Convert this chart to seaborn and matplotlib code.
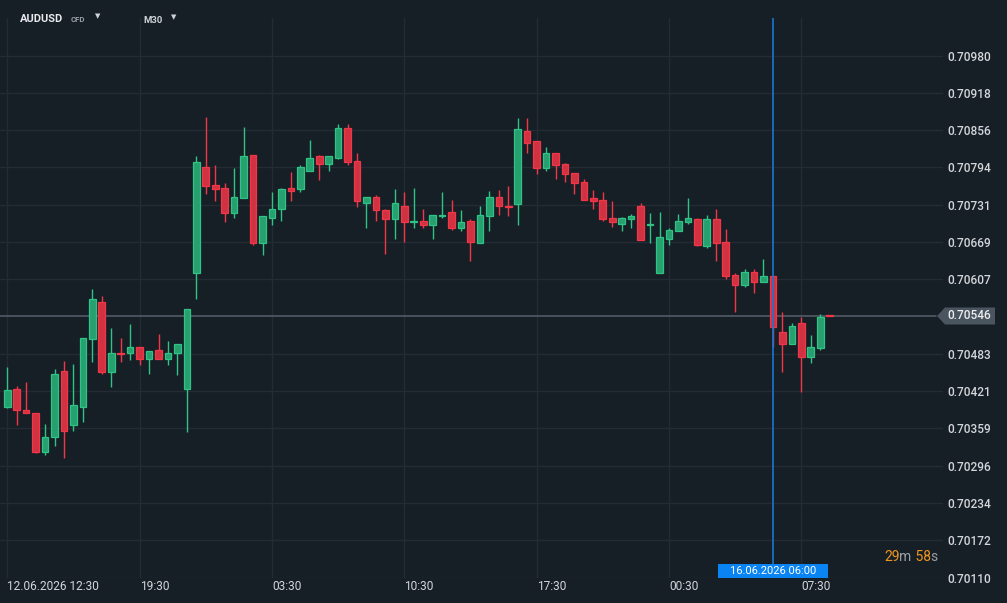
import numpy as np
import pandas as pd
import seaborn as sns
import matplotlib.pyplot as plt
from matplotlib.patches import Polygon, Rectangle
from matplotlib.transforms import IdentityTransform, blended_transform_factory

# AUDUSD CFD, M30 candles
opens = [0.70395, 0.70425, 0.70390, 0.70385, 0.70319, 0.70345, 0.70455, 0.70364, 0.70394, 0.70507,
         0.70569, 0.70452, 0.70485, 0.70484, 0.70495, 0.70475, 0.70489, 0.70475, 0.70485, 0.70425,
         0.70617, 0.70795, 0.70765, 0.70760, 0.70717, 0.70743, 0.70814, 0.70668, 0.70710, 0.70725,
         0.70759, 0.70757, 0.70788, 0.70812, 0.70800, 0.70810, 0.70860, 0.70804, 0.70735, 0.70744,
         0.70722, 0.70708, 0.70730, 0.70702, 0.70704, 0.70698, 0.70712, 0.70719, 0.70693, 0.70704,
         0.70668, 0.70712, 0.70745, 0.70730, 0.70733, 0.70854, 0.70837, 0.70793, 0.70817, 0.70799,
         0.70785, 0.70769, 0.70742, 0.70740, 0.70709, 0.70700, 0.70707, 0.70729, 0.70697, 0.70617,
         0.70675, 0.70688, 0.70703, 0.70707, 0.70663, 0.70707, 0.70670, 0.70615, 0.70597, 0.70620,
         0.70603, 0.70612, 0.70519, 0.70500, 0.70534, 0.70477, 0.70493, 0.70548]
highs = [0.70461, 0.70429, 0.70436, 0.70385, 0.70366, 0.70458, 0.70471, 0.70466, 0.70509, 0.70591,
         0.70579, 0.70526, 0.70509, 0.70533, 0.70495, 0.70487, 0.70516, 0.70504, 0.70500, 0.70558,
         0.70813, 0.70878, 0.70798, 0.70768, 0.70792, 0.70861, 0.70814, 0.70712, 0.70753, 0.70759,
         0.70786, 0.70797, 0.70839, 0.70814, 0.70812, 0.70866, 0.70866, 0.70818, 0.70745, 0.70747,
         0.70725, 0.70758, 0.70753, 0.70759, 0.70724, 0.70715, 0.70753, 0.70739, 0.70723, 0.70707,
         0.70729, 0.70754, 0.70756, 0.70763, 0.70876, 0.70876, 0.70837, 0.70828, 0.70817, 0.70801,
         0.70785, 0.70774, 0.70756, 0.70753, 0.70738, 0.70711, 0.70716, 0.70734, 0.70718, 0.70719,
         0.70692, 0.70716, 0.70743, 0.70709, 0.70714, 0.70724, 0.70691, 0.70617, 0.70624, 0.70624,
         0.70641, 0.70612, 0.70553, 0.70534, 0.70544, 0.70514, 0.70550, 0.70548]
lows = [0.70392, 0.70365, 0.70384, 0.70317, 0.70315, 0.70330, 0.70310, 0.70355, 0.70370, 0.70470,
        0.70449, 0.70427, 0.70470, 0.70472, 0.70465, 0.70450, 0.70474, 0.70465, 0.70448, 0.70353,
        0.70575, 0.70750, 0.70737, 0.70703, 0.70710, 0.70743, 0.70665, 0.70647, 0.70698, 0.70704,
        0.70737, 0.70753, 0.70788, 0.70773, 0.70788, 0.70807, 0.70797, 0.70728, 0.70693, 0.70704,
        0.70650, 0.70674, 0.70670, 0.70692, 0.70693, 0.70674, 0.70710, 0.70690, 0.70687, 0.70637,
        0.70667, 0.70688, 0.70715, 0.70712, 0.70698, 0.70817, 0.70783, 0.70788, 0.70775, 0.70770,
        0.70750, 0.70740, 0.70724, 0.70705, 0.70695, 0.70688, 0.70692, 0.70672, 0.70668, 0.70617,
        0.70665, 0.70688, 0.70700, 0.70663, 0.70660, 0.70638, 0.70608, 0.70552, 0.70595, 0.70585,
        0.70603, 0.70495, 0.70452, 0.70500, 0.70420, 0.70467, 0.70490, 0.70546]
closes = [0.70422, 0.70390, 0.70384, 0.70319, 0.70344, 0.70450, 0.70355, 0.70397, 0.70509, 0.70574,
          0.70452, 0.70485, 0.70482, 0.70495, 0.70474, 0.70487, 0.70474, 0.70485, 0.70500, 0.70558,
          0.70802, 0.70762, 0.70758, 0.70717, 0.70744, 0.70812, 0.70668, 0.70712, 0.70725, 0.70757,
          0.70755, 0.70794, 0.70810, 0.70800, 0.70812, 0.70860, 0.70802, 0.70738, 0.70744, 0.70722,
          0.70707, 0.70734, 0.70702, 0.70705, 0.70698, 0.70714, 0.70715, 0.70693, 0.70702, 0.70670,
          0.70715, 0.70745, 0.70730, 0.70727, 0.70857, 0.70835, 0.70793, 0.70817, 0.70798, 0.70783,
          0.70767, 0.70740, 0.70738, 0.70708, 0.70702, 0.70709, 0.70712, 0.70672, 0.70700, 0.70677,
          0.70690, 0.70705, 0.70710, 0.70665, 0.70707, 0.70668, 0.70613, 0.70597, 0.70620, 0.70603,
          0.70612, 0.70528, 0.70500, 0.70530, 0.70477, 0.70495, 0.70544, 0.70546]

time_labels = ["12.06.2026 12:30", "19:30", "03:30", "10:30", "17:30", "00:30", "07:30"]
label_step = 14  # one time label every 14 candles
price_labels = ["0.70110", "0.70172", "0.70234", "0.70296", "0.70359", "0.70421", "0.70483",
                "0.70607", "0.70669", "0.70731", "0.70794", "0.70856", "0.70918", "0.70980"]
cursor_index = 81
cursor_label = "16.06.2026 06:00"
countdown_parts = ["29", "m", " 58", "s"]

# colours
BG = "#171f26"
GRID = "#232c34"
TEXT = "#d3d6da"
GREEN_FILL = "#26a06e"
GREEN_EDGE = "#2ec486"
RED_FILL = "#d13242"
RED_EDGE = "#f23648"
PRICE_LINE = "#56616c"
PRICE_TAG = "#4a5560"
BLUE_LINE = "#1976d2"
BLUE_BOX = "#0b84f3"
ORANGE = "#f0951e"
GREY = "#9aa0a6"

W, H = 1007, 603


def build_frame() -> pd.DataFrame:
    df = pd.DataFrame({"open": opens, "high": highs, "low": lows, "close": closes})
    df["idx"] = np.arange(len(df))
    df["up"] = df["close"] >= df["open"]
    return df


def draw_candles(ax, df: pd.DataFrame) -> None:
    for up, fill, edge in [(True, GREEN_FILL, GREEN_EDGE), (False, RED_FILL, RED_EDGE)]:
        d = df[df["up"] == up]
        ax.vlines(d["idx"], d["low"], d["high"], color=edge, linewidth=1, zorder=2)
        ax.bar(d["idx"], (d["close"] - d["open"]).abs(),
               bottom=np.minimum(d["open"], d["close"]),
               width=0.7, color=fill, edgecolor=edge, linewidth=0.9, zorder=3)


def main():
    sns.set_theme(style="dark", rc={"axes.facecolor": BG, "figure.facecolor": BG,
                                    "savefig.facecolor": BG})
    plt.rcParams["font.family"] = ["Roboto", "DejaVu Sans"]

    df = build_frame()
    last = df["close"].iloc[-1]

    fig = plt.figure(figsize=(W / 100, H / 100), dpi=100)
    ax = fig.add_axes([0, 25 / H, 943 / W, 560 / H])
    ax.set_xlim(-0.77, 98.99)
    ax.set_ylim(0.701093, 0.710427)
    for s in ax.spines.values():
        s.set_visible(False)
    ax.set_axisbelow(True)
    ax.grid(True, color=GRID, linewidth=1)

    # axes ticks
    ax.set_xticks(np.arange(len(time_labels)) * label_step)
    ax.set_xticklabels(time_labels, ha="left", fontsize=8.6, color=TEXT)
    ax.set_yticks([float(v) for v in price_labels])
    ax.set_yticklabels(price_labels, fontsize=8.6, color=TEXT, fontweight="medium")
    ax.yaxis.tick_right()
    ax.tick_params(axis="x", length=0, pad=1.5)
    ax.tick_params(axis="y", length=0, pad=3)
    ax.set_xlabel("")
    ax.set_ylabel("")

    draw_candles(ax, df)

    # current price line + tag
    ax.axhline(last, xmax=936 / 943, color=PRICE_LINE, linewidth=1.1, zorder=1.5)
    _, yp = ax.transData.transform((0, last))
    half = 8.5
    tag = Polygon([(937, yp), (945, yp + half), (995, yp + half), (995, yp - half), (945, yp - half)],
                  closed=True, transform=IdentityTransform(), facecolor=PRICE_TAG, edgecolor="none")
    fig.add_artist(tag)
    fig.text(947 / W, yp / H, f"{last:.5f}", ha="left", va="center",
             fontsize=8.6, fontweight="medium", color="#eceef0")

    # crosshair
    ax.axvline(cursor_index, color=BLUE_LINE, linewidth=1.2, zorder=4)
    trans = blended_transform_factory(ax.transData, ax.transAxes)
    ax.add_patch(Rectangle((cursor_index - 5.8, 0), 11.6, 14 / 560, transform=trans,
                           facecolor=BLUE_BOX, edgecolor="none", clip_on=False, zorder=5))
    ax.text(cursor_index, 7 / 560, cursor_label, transform=trans, ha="center", va="center",
            fontsize=8, color="white", zorder=6)

    # bar countdown
    t = ax.text(884 / 943, 21 / 560, countdown_parts[0], transform=ax.transAxes,
                ha="left", va="center", fontsize=10, color=ORANGE)
    for i, part in enumerate(countdown_parts[1:], start=1):
        t = ax.annotate(part, xy=(1, 0), xycoords=t, ha="left", va="bottom", fontsize=10,
                        color=ORANGE if i % 2 == 0 else GREY)

    # header
    fig.text(20 / W, 1 - 18.5 / H, "AUDUSD", ha="left", va="center", fontsize=8,
             fontweight="bold", color="#e8eaed")
    fig.text(71 / W, 1 - 19 / H, "CFD", ha="left", va="center", fontsize=5.6,
             fontweight="bold", color=GREY)
    fig.text(95 / W, 1 - 16.5 / H, "▼", ha="left", va="center", fontsize=5,
             color="#d0d3d6", family="DejaVu Sans")
    fig.text(143 / W, 1 - 20.5 / H, "M30", ha="left", va="center", fontsize=6.8,
             fontweight="bold", color="#d0d3d6")
    fig.text(171 / W, 1 - 17.5 / H, "▼", ha="left", va="center", fontsize=5,
             color="#d0d3d6", family="DejaVu Sans")

    fig.savefig("out.png", dpi=100, facecolor=BG)
    plt.close(fig)


if __name__ == "__main__":
    main()
